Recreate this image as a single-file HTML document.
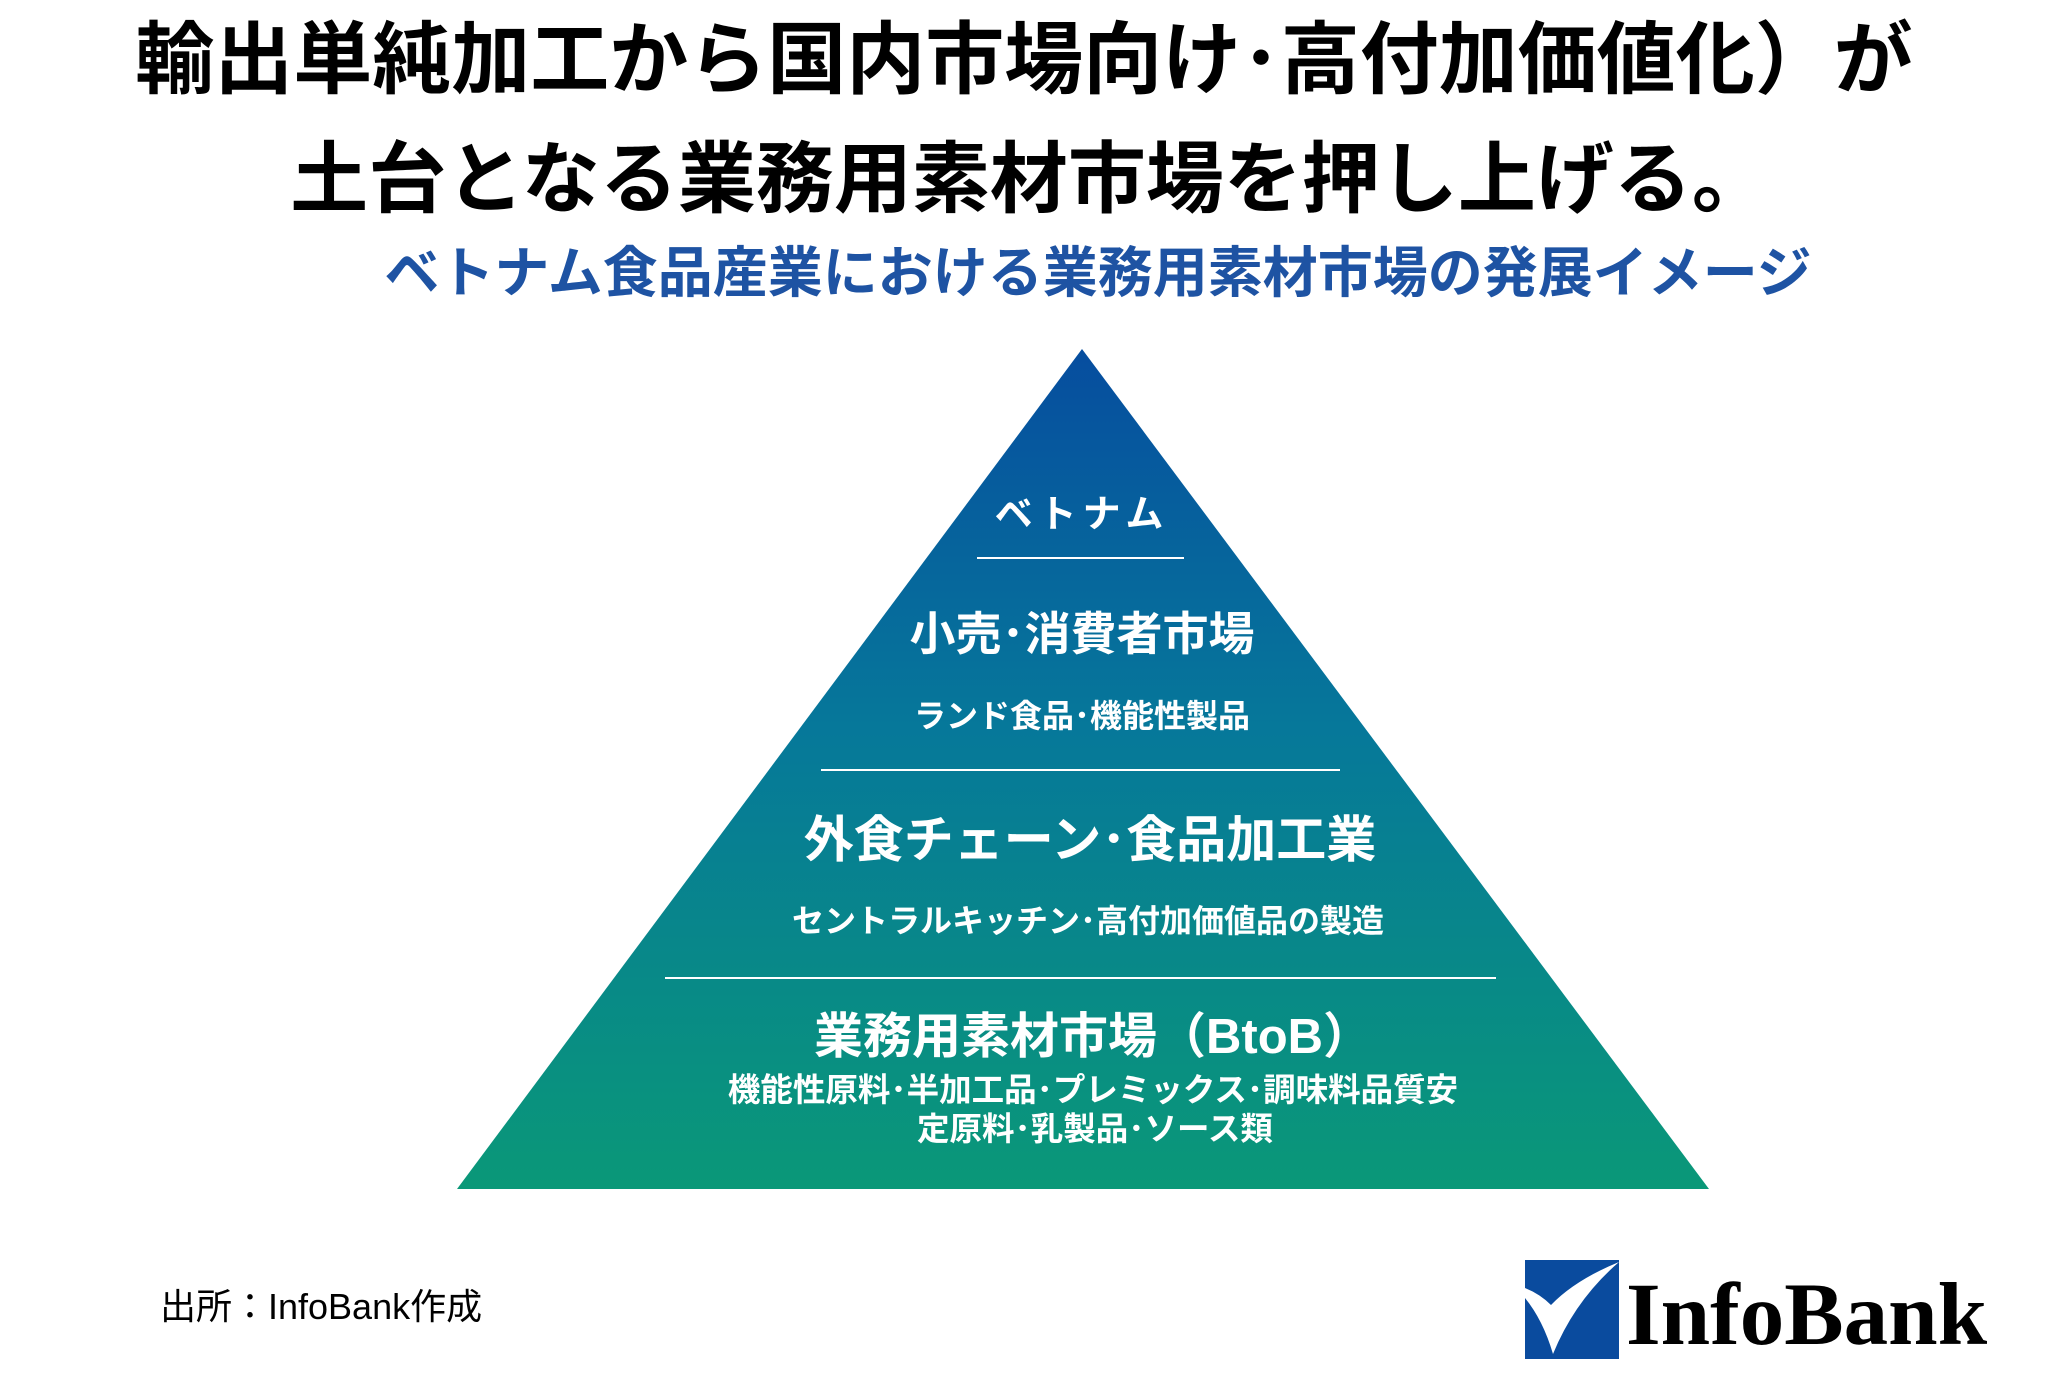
<!DOCTYPE html>
<html><head><meta charset="utf-8"><style>
body{margin:0;width:2048px;height:1379px;background:#fff;overflow:hidden;position:relative;font-family:"Liberation Sans","Noto Sans CJK JP",sans-serif}
.t{position:absolute;white-space:nowrap;transform:translateX(-50%)}
</style></head><body>
<div class="t" style="left:1024px;top:15px;font-size:79px;font-weight:bold;color:#000;line-height:90px">輸出単純加工から国内市場向け･高付加価値化）が</div>
<div class="t" style="left:1030px;top:134px;font-size:78px;font-weight:bold;color:#000;line-height:90px">土台となる業務用素材市場を押し上げる。</div>
<div class="t" style="left:1098px;top:241px;font-size:55px;font-weight:bold;color:#1e53a3;line-height:64px">ベトナム食品産業における業務用素材市場の発展イメージ</div>
<svg style="position:absolute;left:0;top:0" width="2048" height="1379">
<defs><linearGradient id="g" x1="0" y1="0" x2="0" y2="1">
<stop offset="0" stop-color="#064d9f"/><stop offset="0.45" stop-color="#06789a"/><stop offset="1" stop-color="#0a9878"/></linearGradient></defs>
<polygon points="1082,349 457,1189 1709,1189" fill="url(#g)"/>
<g stroke="#fff" stroke-width="2">
<line x1="977" y1="558" x2="1184" y2="558"/>
<line x1="821" y1="770" x2="1340" y2="770"/>
<line x1="665" y1="978" x2="1496" y2="978"/>
</g>
</svg>
<div class="t" style="left:1082px;top:492px;font-size:38px;font-weight:bold;color:#fff;letter-spacing:6px;line-height:46px">ベトナム</div>
<div class="t" style="left:1082px;top:607px;font-size:46px;font-weight:bold;color:#fff;line-height:54px">小売･消費者市場</div>
<div class="t" style="left:1082px;top:696px;font-size:32px;font-weight:bold;color:#fff;line-height:40px">ランド食品･機能性製品</div>
<div class="t" style="left:1090px;top:811px;font-size:50px;font-weight:bold;color:#fff;line-height:58px">外食チェーン･食品加工業</div>
<div class="t" style="left:1088px;top:901px;font-size:32px;font-weight:bold;color:#fff;line-height:40px">セントラルキッチン･高付加価値品の製造</div>
<div class="t" style="left:1093px;top:1008px;font-size:49px;font-weight:bold;color:#fff;line-height:58px">業務用素材市場（BtoB）</div>
<div class="t" style="left:1093px;top:1070px;font-size:32.5px;font-weight:bold;color:#fff;line-height:40px">機能性原料･半加工品･プレミックス･調味料品質安</div>
<div class="t" style="left:1095px;top:1109px;font-size:32.5px;font-weight:bold;color:#fff;line-height:40px">定原料･乳製品･ソース類</div>
<div style="position:absolute;left:160px;top:1286px;font-size:36px;color:#000;white-space:nowrap;line-height:42px">出所：InfoBank作成</div>
<svg style="position:absolute;left:1525px;top:1260px" width="94" height="99">
<rect width="94" height="99" fill="#0a4b9e"/>
<path d="M0,28 Q15,34 26,45 Q50,20 94,2 Q50,40 28,94 Q18,60 0,38 Z" fill="#fff"/>
</svg>
<div style="position:absolute;left:1626px;top:1265px;font-family:'Liberation Serif',serif;font-weight:bold;font-size:89px;color:#000;line-height:100px;white-space:nowrap">InfoBank</div>
</body></html>
